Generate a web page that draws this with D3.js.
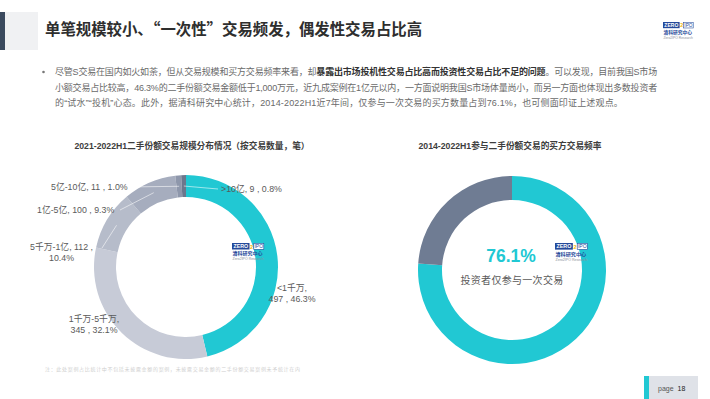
<!DOCTYPE html>
<html>
<head>
<meta charset="utf-8">
<script src="https://cdn.jsdelivr.net/npm/d3@7"></script>
<style>
  html, body { margin: 0; padding: 0; background: #fff; }
  svg { display: block; font-family: "Liberation Sans", "Noto Sans CJK SC", sans-serif; }
</style>
</head>
<body>
<svg id="chart" width="710" height="399"></svg>
<script>
// left donut: deal size distribution (by number of deals)
const sizeCategories = ["<1千万", "1千万-5千万", "5千万-1亿", "1亿-5亿", "5亿-10亿", ">10亿"];
const sizeCounts = [497, 345, 112, 100, 11, 9];
const sizeShares = [46.3, 32.1, 10.4, 9.3, 1.0, 0.8];

// right donut: buyer frequency
const freqCategories = ["投资者仅参与一次交易", "参与多次交易"];
const freqShares = [76.1, 23.9];

const pageTitle = "单笔规模较小、“一次性”交易频发，偶发性交易占比高";
const leftTitle = "2021-2022H1二手份额交易规模分布情况（按交易数量，笔）";
const rightTitle = "2014-2022H1参与二手份额交易的买方交易频率";

const cyan = "#21c8d3";
const sizeColors = [cyan, "#c7cbd7", "#b6bcca", "#a6adbe", "#8e97ab", "#6c778d"];
const freqColors = [cyan, "#6f7c93"];

const svg = d3.select("#chart");

// ---- header ----
svg.append("rect").attr("x", 0).attr("y", 12).attr("width", 5).attr("height", 38).attr("fill", "#3b4a5e");
svg.append("rect").attr("x", 5).attr("y", 12).attr("width", 33).attr("height", 38).attr("fill", "#f0f1f3");
svg.append("text")
  .attr("x", 45).attr("y", 35)
  .attr("font-family", "'Noto Sans CJK SC', sans-serif")
  .attr("font-size", "15.4px").attr("font-weight", "700")
  .attr("fill", "#2e2e2e")
  .text(pageTitle);

const drawLogo = (x, y, s) => {
  const g = svg.append("g").attr("transform", `translate(${x},${y}) scale(${s})`);
  g.append("rect").attr("width", 17.5).attr("height", 6.5).attr("fill", "#254a9a");
  g.append("text").attr("x", 8.75).attr("y", 5.2).attr("text-anchor", "middle")
    .attr("font-size", "5.3px").attr("font-weight", "700").attr("fill", "#fff").text("ZERO");
  g.append("text").attr("x", 19.6).attr("y", 5.6).attr("text-anchor", "middle")
    .attr("font-size", "5.6px").attr("font-weight", "700").attr("fill", "#f2b705").text("2");
  g.append("rect").attr("x", 21.8).attr("y", 0.3).attr("width", 10).attr("height", 6)
    .attr("fill", "#fff").attr("stroke", "#254a9a").attr("stroke-width", 0.6);
  g.append("text").attr("x", 26.8).attr("y", 5.1).attr("text-anchor", "middle")
    .attr("font-size", "5px").attr("fill", "#254a9a").text("IPO");
  g.append("text").attr("x", 0.5).attr("y", 12.3)
    .attr("font-family", "'Noto Sans CJK SC', sans-serif")
    .attr("font-size", "5px").attr("font-weight", "700").attr("fill", "#254a9a").text("清科研究中心");
  g.append("text").attr("x", 0.5).attr("y", 17.4)
    .attr("font-size", "3.5px").attr("fill", "#8a8f99").text("Zero2IPO Research");
};
drawLogo(663, 22, 0.95);

// ---- paragraph ----
const paraLines = [
  [["尽管S交易在国内如火如荼，但从交易规模和买方交易频率来看，却", false],
   ["暴露出市场投机性交易占比高而投资性交易占比不足的问题", true],
   ["。可以发现，目前我国S市场", false]],
  [["小额交易占比较高，46.3%的二手份额交易金额低于1,000万元，近九成案例在1亿元以内，一方面说明我国S市场体量尚小，而另一方面也体现出多数投资者", false]],
  [["的“试水”“投机”心态。此外，据清科研究中心统计，2014-2022H1近7年间，仅参与一次交易的买方数量占到76.1%，也可侧面印证上述观点。", false]],
];
svg.append("circle").attr("cx", 43.5).attr("cy", 72).attr("r", 1.3).attr("fill", "#777");
paraLines.forEach((parts, i) => {
  const t = svg.append("text")
    .attr("x", 55).attr("y", 75 + i * 15.5)
    .attr("font-size", "9px").attr("fill", "#6a6a6a");
  parts.forEach(([s, bold]) => {
    t.append("tspan")
      .attr("font-weight", bold ? "700" : "400")
      .attr("fill", bold ? "#333" : "#6a6a6a")
      .text(s);
  });
  const target = i < 2 ? 602 : 568;
  const natural = t.node().getComputedTextLength();
  const n = parts.map((p) => p[0]).join("").length;
  t.attr("letter-spacing", `${(target - natural) / n}px`);
});

// ---- chart titles ----
svg.append("text").attr("x", 192).attr("y", 149).attr("text-anchor", "middle")
  .attr("font-size", "8.7px").attr("font-weight", "700").attr("fill", "#3d3d3d").text(leftTitle);
svg.append("text").attr("x", 510).attr("y", 149).attr("text-anchor", "middle")
  .attr("font-size", "8.7px").attr("font-weight", "700").attr("fill", "#3d3d3d").text(rightTitle);

// ---- left donut ----
const leftR = 92, leftr = 70;
const left = svg.append("g").attr("transform", "translate(186,267)");
const pieL = d3.pie().sort(null).value((d) => d)(sizeCounts);
const arcL = d3.arc().innerRadius(leftr).outerRadius(leftR);
left.selectAll("path.slice")
  .data(pieL)
  .join("path")
  .attr("class", "slice")
  .attr("d", arcL)
  .attr("fill", (d, i) => sizeColors[i]);

drawLogo(232, 243, 1.0);

// label layout: centre/anchor point of label text, line split, leader attach point
const labelLayout = [
  { x: 292, y: 288, anchor: "middle", lines: (i) => [`${sizeCategories[i]},`, `${sizeCounts[i]} , ${sizeShares[i].toFixed(1)}%`], lead: null },
  { x: 94, y: 319, anchor: "middle", lines: (i) => [`${sizeCategories[i]},`, `${sizeCounts[i]} , ${sizeShares[i].toFixed(1)}%`], lead: null },
  { x: 61.5, y: 247, anchor: "middle", lines: (i) => [`${sizeCategories[i]}, ${sizeCounts[i]} ,`, `${sizeShares[i].toFixed(1)}%`], lead: [102, 248] },
  { x: 37, y: 210, anchor: "start", lines: (i) => [`${sizeCategories[i]}, ${sizeCounts[i]} , ${sizeShares[i].toFixed(1)}%`], lead: [120, 210] },
  { x: 51, y: 187, anchor: "start", lines: (i) => [`${sizeCategories[i]}, ${sizeCounts[i]} , ${sizeShares[i].toFixed(1)}%`], lead: [125, 187] },
  { x: 221, y: 189, anchor: "start", lines: (i) => [`${sizeCategories[i]}, ${sizeCounts[i]} , ${sizeShares[i].toFixed(1)}%`], lead: [218, 189] },
];

const arcMid = d3.arc().innerRadius(81).outerRadius(81);
pieL.forEach((d, i) => {
  const L = labelLayout[i];
  if (L.lead) {
    const [cx, cy] = arcMid.centroid(d);
    svg.append("line")
      .attr("x1", 186 + cx).attr("y1", 267 + cy)
      .attr("x2", L.lead[0]).attr("y2", L.lead[1])
      .attr("stroke", "#fff").attr("stroke-opacity", 0.7).attr("stroke-width", 0.8);
  }
  const lines = L.lines(i);
  const t = svg.append("text")
    .attr("x", L.x).attr("y", L.y)
    .attr("text-anchor", L.anchor)
    .attr("font-size", "8.8px").attr("fill", "#5a5a5a");
  lines.forEach((s, k) => {
    t.append("tspan").attr("x", L.x).attr("dy", k === 0 ? "0.35em" : "10.5px").text(s);
  });
});

// ---- right donut ----
const right = svg.append("g").attr("transform", "translate(512,270)");
const pieR = d3.pie().sort(null).value((d) => d)(freqShares);
const arcR = d3.arc().innerRadius(70).outerRadius(94);
right.selectAll("path")
  .data(pieR)
  .join("path")
  .attr("d", arcR)
  .attr("fill", (d, i) => freqColors[i]);

drawLogo(555, 243, 1.02);

right.append("text").attr("x", -1).attr("y", -14).attr("dy", "0.35em")
  .attr("text-anchor", "middle")
  .attr("font-size", "17.5px").attr("font-weight", "700").attr("fill", cyan)
  .text(`${freqShares[0].toFixed(1)}%`);
right.append("text").attr("x", 0).attr("y", 10).attr("dy", "0.35em")
  .attr("text-anchor", "middle")
  .attr("font-family", "'Noto Sans CJK SC', sans-serif")
  .attr("font-size", "10px").attr("letter-spacing", "0.3px").attr("fill", "#5a5a5a")
  .text(freqCategories[0]);

// ---- footnote ----
svg.append("text").attr("x", 45).attr("y", 371)
  .attr("font-family", "'Noto Sans CJK SC', sans-serif")
  .attr("font-size", "5px").attr("fill", "#cfcfcf")
  .attr("textLength", 255).attr("lengthAdjust", "spacing")
  .text("注：此处案例占比统计中不包括未披露金额的案例，未披露交易金额的二手份额交易案例未予统计在内");

// ---- page tag ----
svg.append("rect").attr("x", 644).attr("y", 376).attr("width", 54).attr("height", 23).attr("fill", "#dfe2e8");
svg.append("rect").attr("x", 644).attr("y", 376).attr("width", 5).attr("height", 23).attr("fill", cyan);
svg.append("text").attr("x", 658).attr("y", 391).attr("font-size", "7px").attr("fill", "#555")
  .text("page ").append("tspan").attr("fill", "#222").attr("dx", "2px").text("18");
</script>
</body>
</html>
